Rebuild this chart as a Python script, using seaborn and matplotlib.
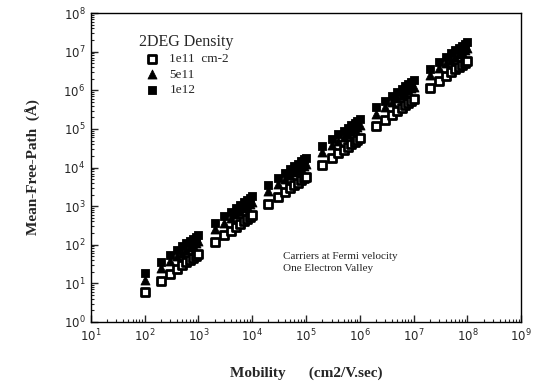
import matplotlib
matplotlib.use("Agg")
import matplotlib.pyplot as plt
import seaborn as sns
import pandas as pd
from matplotlib.ticker import LogLocator, NullFormatter

# ---- data ----
mobility = [
    1e2, 2e2, 3e2, 4e2, 5e2, 6e2, 7e2, 8e2, 9e2,
    1e3, 2e3, 3e3, 4e3, 5e3, 6e3, 7e3, 8e3, 9e3,
    1e4, 2e4, 3e4, 4e4, 5e4, 6e4, 7e4, 8e4, 9e4,
    1e5, 2e5, 3e5, 4e5, 5e5, 6e5, 7e5, 8e5, 9e5,
    1e6, 2e6, 3e6, 4e6, 5e6, 6e6, 7e6, 8e6, 9e6,
    1e7, 2e7, 3e7, 4e7, 5e7, 6e7, 7e7, 8e7, 9e7,
    1e8,
]
mfp_1e11 = [
    5.8e0, 1.16e1, 1.74e1, 2.32e1, 2.9e1, 3.48e1, 4.06e1, 4.64e1, 5.22e1,
    5.8e1, 1.16e2, 1.74e2, 2.32e2, 2.9e2, 3.48e2, 4.06e2, 4.64e2, 5.22e2,
    5.8e2, 1.16e3, 1.74e3, 2.32e3, 2.9e3, 3.48e3, 4.06e3, 4.64e3, 5.22e3,
    5.8e3, 1.16e4, 1.74e4, 2.32e4, 2.9e4, 3.48e4, 4.06e4, 4.64e4, 5.22e4,
    5.8e4, 1.16e5, 1.74e5, 2.32e5, 2.9e5, 3.48e5, 4.06e5, 4.64e5, 5.22e5,
    5.8e5, 1.16e6, 1.74e6, 2.32e6, 2.9e6, 3.48e6, 4.06e6, 4.64e6, 5.22e6,
    5.8e6,
]
mfp_5e11 = [
    1.25e1, 2.5e1, 3.75e1, 5.0e1, 6.25e1, 7.5e1, 8.75e1, 1.0e2, 1.125e2,
    1.25e2, 2.5e2, 3.75e2, 5.0e2, 6.25e2, 7.5e2, 8.75e2, 1.0e3, 1.125e3,
    1.25e3, 2.5e3, 3.75e3, 5.0e3, 6.25e3, 7.5e3, 8.75e3, 1.0e4, 1.125e4,
    1.25e4, 2.5e4, 3.75e4, 5.0e4, 6.25e4, 7.5e4, 8.75e4, 1.0e5, 1.125e5,
    1.25e5, 2.5e5, 3.75e5, 5.0e5, 6.25e5, 7.5e5, 8.75e5, 1.0e6, 1.125e6,
    1.25e6, 2.5e6, 3.75e6, 5.0e6, 6.25e6, 7.5e6, 8.75e6, 1.0e7, 1.125e7,
    1.25e7,
]
mfp_1e12 = [
    1.8e1, 3.6e1, 5.4e1, 7.2e1, 9.0e1, 1.08e2, 1.26e2, 1.44e2, 1.62e2,
    1.8e2, 3.6e2, 5.4e2, 7.2e2, 9.0e2, 1.08e3, 1.26e3, 1.44e3, 1.62e3,
    1.8e3, 3.6e3, 5.4e3, 7.2e3, 9.0e3, 1.08e4, 1.26e4, 1.44e4, 1.62e4,
    1.8e4, 3.6e4, 5.4e4, 7.2e4, 9.0e4, 1.08e5, 1.26e5, 1.44e5, 1.62e5,
    1.8e5, 3.6e5, 5.4e5, 7.2e5, 9.0e5, 1.08e6, 1.26e6, 1.44e6, 1.62e6,
    1.8e6, 3.6e6, 5.4e6, 7.2e6, 9.0e6, 1.08e7, 1.26e7, 1.44e7, 1.62e7,
    1.8e7,
]
series_labels = ["1e11  cm-2", "5e11", "1e12"]

df = pd.DataFrame({
    "mobility": mobility * 3,
    "mfp": mfp_1e11 + mfp_5e11 + mfp_1e12,
    "density": [series_labels[0]] * len(mobility)
               + [series_labels[1]] * len(mobility)
               + [series_labels[2]] * len(mobility),
})

sns.set_style("ticks")
plt.rcParams["mathtext.fontset"] = "dejavusans"

fig = plt.figure(figsize=(5.34, 3.86), dpi=100)
ax = fig.add_axes([0.170, 0.166, 0.806, 0.800])

styles = {
    series_labels[0]: dict(marker="s", facecolor="white", edgecolor="black", linewidth=2.0, s=26),
    series_labels[1]: dict(marker="^", facecolor="black", edgecolor="black", linewidth=0.6, s=42),
    series_labels[2]: dict(marker="s", facecolor="black", edgecolor="black", linewidth=0.6, s=34),
}
for lab in series_labels:
    sub = df[df["density"] == lab]
    st = styles[lab]
    sns.scatterplot(data=sub, x="mobility", y="mfp", ax=ax, label=lab,
                    marker=st["marker"], facecolor=st["facecolor"],
                    edgecolor=st["edgecolor"], linewidth=st["linewidth"], s=st["s"])

ax.set_xscale("log")
ax.set_yscale("log")
ax.set_xlim(1e1, 1e9)
ax.set_ylim(1e0, 1e8)

ax.xaxis.set_major_locator(LogLocator(base=10, numticks=20))
ax.yaxis.set_major_locator(LogLocator(base=10, numticks=20))
ax.xaxis.set_minor_locator(LogLocator(base=10, subs=range(2, 10), numticks=100))
ax.yaxis.set_minor_locator(LogLocator(base=10, subs=range(2, 10), numticks=100))
ax.xaxis.set_minor_formatter(NullFormatter())
ax.yaxis.set_minor_formatter(NullFormatter())
ax.tick_params(which="major", direction="in", length=5, width=1.0, labelsize=8.5,
               top=False, right=False, pad=4)
ax.tick_params(which="minor", direction="in", length=2.5, width=0.8,
               top=False, right=False)
for sp in ax.spines.values():
    sp.set_linewidth(1.0)
    sp.set_color("black")

ax.set_xlabel("Mobility      (cm2/V.sec)", fontsize=11, fontweight="bold",
              family="Liberation Serif", labelpad=16)
ax.set_ylabel("Mean-Free-Path  (Å)", fontsize=11, fontweight="bold",
              family="Liberation Serif", labelpad=16)

leg = ax.legend(title="2DEG Density", loc="upper left", bbox_to_anchor=(0.1, 0.95),
                frameon=False, prop={"family": "Liberation Serif", "size": 9.5},
                handletextpad=0.3, labelspacing=0.25, borderaxespad=0,
                title_fontproperties={"family": "Liberation Serif", "size": 11.5})
leg._legend_box.align = "left"

ax.text(0.447, 0.225, "Carriers at Fermi velocity\nOne Electron Valley",
        transform=ax.transAxes, fontsize=8, family="Liberation Serif",
        va="top", ha="left", linespacing=1.4)

fig.savefig("out.png", dpi=100)
